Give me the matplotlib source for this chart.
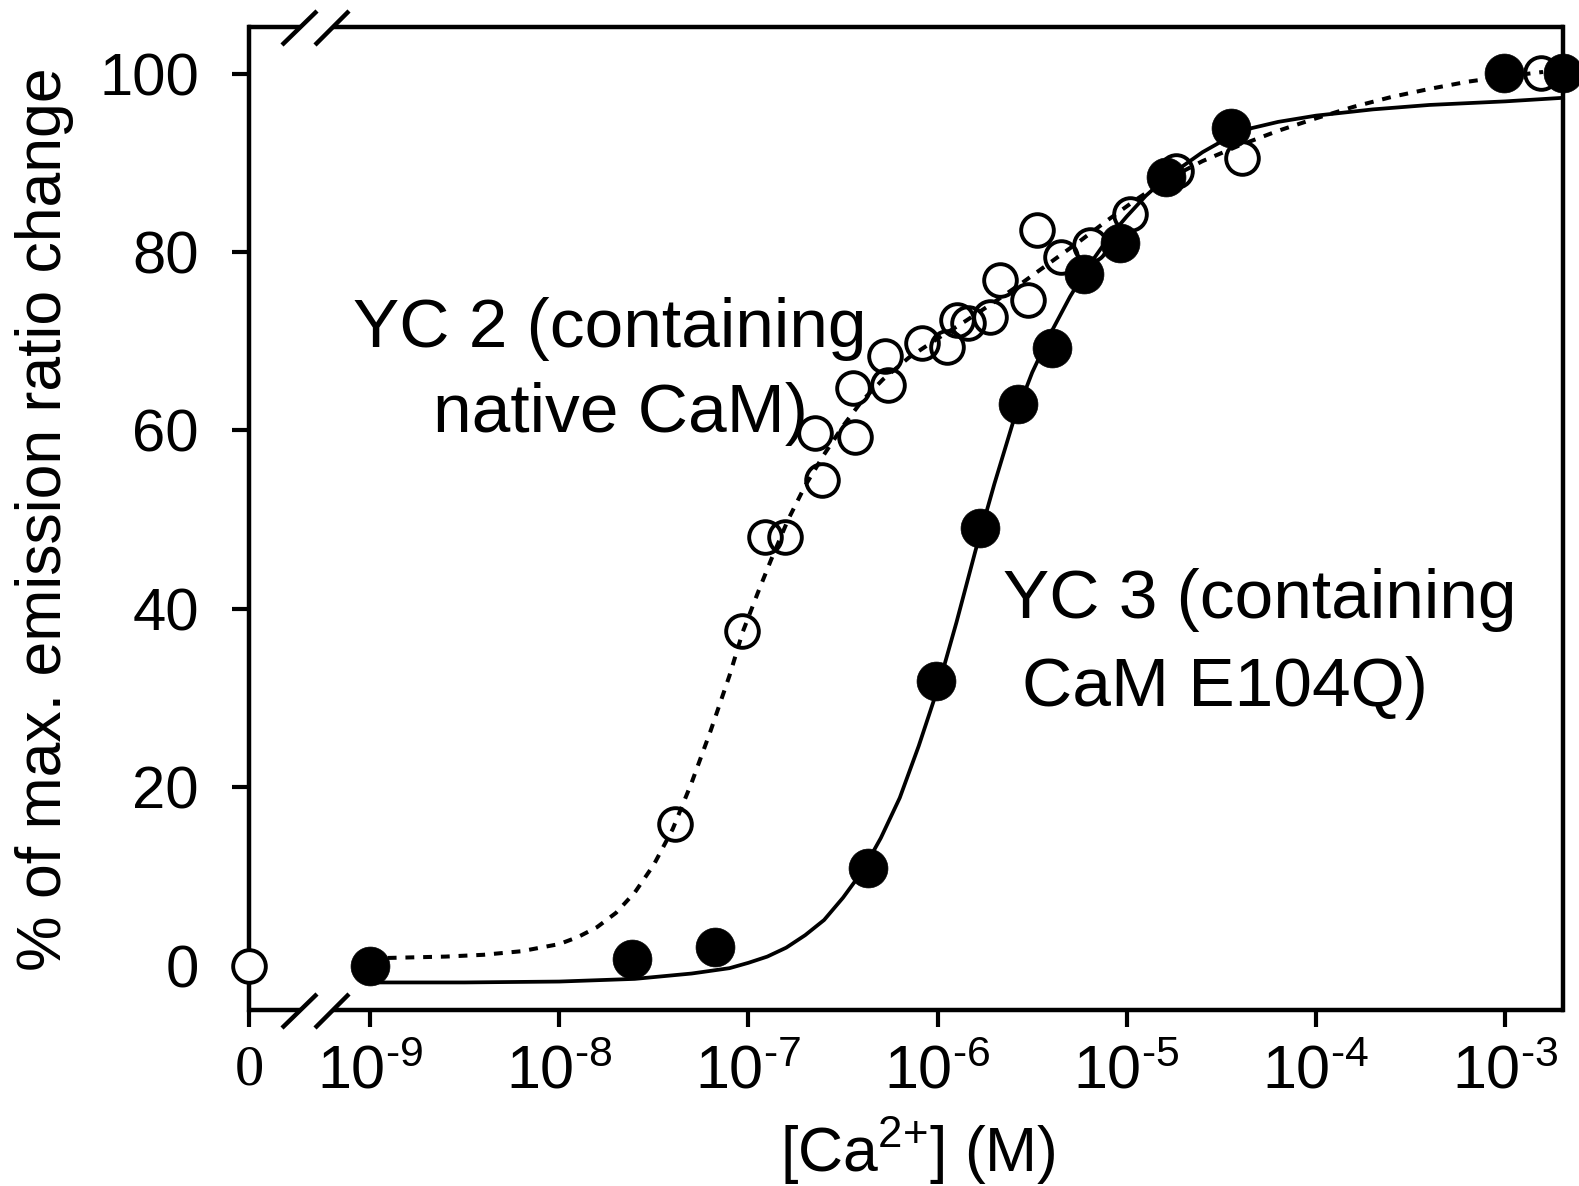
import numpy as np
import matplotlib
matplotlib.use('Agg')
import matplotlib.pyplot as plt
from matplotlib.ticker import NullLocator, FixedLocator

plt.rcParams['font.family'] = ['Liberation Sans', 'DejaVu Sans']
plt.rcParams['mathtext.fontset'] = 'custom'
plt.rcParams['mathtext.rm'] = 'Liberation Sans'
plt.rcParams['mathtext.it'] = 'Liberation Sans:italic'
plt.rcParams['mathtext.bf'] = 'Liberation Sans:bold'
plt.rcParams['mathtext.sf'] = 'Liberation Sans'

# ---------------- data (log10 of [Ca2+] in M, % of max change) ----------------
# YC 2 (open circles); the "0 M" point is kept separately
yc2_zero_value = 0.0
yc2_logx = [-7.389, -7.032, -6.910, -6.804, -6.612, -6.649, -6.436, -6.447,
            -6.277, -6.261, -6.085, -5.952, -5.899, -5.840, -5.723, -5.670,
            -5.521, -5.473, -5.350, -5.196, -4.983, -4.738, -4.392, -2.811]
yc2_y = [15.9, 37.5, 48.0, 48.1, 54.4, 59.7, 59.3, 64.8,
         68.3, 65.1, 69.8, 69.4, 72.4, 72.0, 72.7, 76.9,
         74.6, 82.5, 79.5, 80.8, 84.3, 89.1, 90.5, 100.1]

# YC 3 (filled circles)
yc3_logx = [-9.0, -7.613, -7.176, -6.367, -6.010, -5.776, -5.574, -5.393,
            -5.228, -5.036, -4.791, -4.451, -3.008, -2.694]
yc3_y = [0.0, 0.7, 2.1, 10.9, 31.9, 49.1, 63.0, 69.2,
         77.5, 81.0, 88.4, 93.9, 100.1, 100.1]

# fitted curve for YC 2 (dotted)
fit2_logx = [-9.0, -8.8, -8.6, -8.4, -8.2, -8.0, -7.9, -7.8, -7.7, -7.6,
             -7.5, -7.4, -7.3, -7.2, -7.1, -7.03, -6.95, -6.88, -6.79, -6.70,
             -6.60, -6.50, -6.40, -6.29, -6.15, -6.00, -5.85, -5.70, -5.55, -5.40,
             -5.25, -5.10, -4.95, -4.80, -4.60, -4.40, -4.20, -4.00, -3.80, -3.60,
             -3.40, -3.20, -3.00, -2.80]
fit2_y = [0.8, 0.9, 1.0, 1.2, 1.6, 2.4, 3.2, 4.3, 5.9, 8.2,
          11.3, 15.3, 20.5, 26.3, 32.5, 37.4, 41.8, 45.5, 50.0, 53.8,
          57.3, 60.5, 63.3, 65.7, 68.2, 70.3, 72.3, 74.4, 76.6, 78.9,
          81.2, 83.6, 85.9, 88.0, 90.2, 92.0, 93.6, 95.0, 96.3, 97.4,
          98.3, 99.1, 99.7, 100.2]

# fitted curve for YC 3 (solid)
fit3_logx = [-9.0, -8.5, -8.0, -7.6, -7.3, -7.1, -7.0, -6.9, -6.8, -6.7,
             -6.6, -6.5, -6.4, -6.3, -6.2, -6.1, -6.0, -5.9, -5.8, -5.7,
             -5.6, -5.5, -5.4, -5.3, -5.2, -5.1, -5.0, -4.9, -4.8, -4.6,
             -4.4, -4.2, -4.0, -3.7, -3.4, -3.0, -2.694]
fit3_y = [-1.9, -1.9, -1.8, -1.5, -0.9, -0.3, 0.3, 1.0, 2.0, 3.4,
          5.1, 7.6, 10.5, 14.3, 18.8, 24.6, 31.0, 38.5, 46.5, 54.0,
          61.0, 66.5, 71.0, 75.0, 78.5, 81.5, 84.0, 86.3, 88.2, 91.2,
          93.6, 94.6, 95.3, 96.0, 96.5, 96.9, 97.3]

x_tick_exponents = [-9, -8, -7, -6, -5, -4, -3]
y_ticks = [0, 20, 40, 60, 80, 100]

# ---------------- figure ----------------
W, H = 1579, 1186
fig = plt.figure(figsize=(W / 100, H / 100), dpi=100)
ax_l, ax_r, ax_t, ax_b = 249, 1563, 27, 1010
ax = fig.add_axes([ax_l / W, 1 - ax_b / H, (ax_r - ax_l) / W, (ax_b - ax_t) / H])

def fpx(x, y):
    return x / W, 1 - y / H

xmin_log, xmax_log = -9.6395, -2.6945
x_zero = 10 ** xmin_log

ax.set_xscale('log')
ax.set_xlim(10 ** xmin_log, 10 ** xmax_log)
ax.set_ylim(-4.99, 105.24)

# curves
ax.plot(10 ** np.array(fit2_logx), fit2_y, color='black', lw=2.9,
        linestyle=(0, (2.2, 2.2)), zorder=2, clip_on=False)
ax.plot(10 ** np.array(yc2_logx), yc2_y, linestyle='none', marker='o', ms=23.5,
        mfc='none', mec='black', mew=2.8, zorder=3, clip_on=False)
ax.plot([x_zero], [yc2_zero_value], linestyle='none', marker='o', ms=23.5,
        mfc='white', mec='black', mew=2.8, zorder=6, clip_on=False)
ax.plot(10 ** np.array(fit3_logx), fit3_y, color='black', lw=2.7, zorder=4,
        clip_on=False)
ax.plot(10 ** np.array(yc3_logx), yc3_y, linestyle='none', marker='o', ms=28,
        mfc='black', mec='black', mew=0.5, zorder=5, clip_on=False)

# ticks
xt = [x_zero] + [10.0 ** e for e in x_tick_exponents]
xl = ['0'] + [r'$10^{\text{-}%d}$' % (-e) for e in x_tick_exponents]
ax.xaxis.set_major_locator(FixedLocator(xt))
ax.xaxis.set_minor_locator(NullLocator())
ax.set_xticklabels(xl)
ax.set_yticks(y_ticks)
ax.set_yticklabels([str(v) for v in y_ticks])
ax.tick_params(axis='both', direction='out', width=3, color='black')
ax.tick_params(axis='x', length=12, pad=13, labelsize=44)
ax.tick_params(axis='y', length=12, pad=24, labelsize=43)
for lab in ax.get_xticklabels():
    if lab.get_text() == '0':
        lab.set_fontfamily('Liberation Serif')
        lab.set_fontsize(42)

# spines with axis breaks
for s in ['top', 'bottom']:
    ax.spines[s].set_visible(False)
for s in ['left', 'right']:
    ax.spines[s].set_linewidth(3.2)

def axfrac(px, py):
    return (px - ax_l) / (ax_r - ax_l), (ax_b - py) / (ax_b - ax_t)

def seg(p0, p1, lw=3.2):
    a = axfrac(*p0); b = axfrac(*p1)
    ax.plot([a[0], b[0]], [a[1], b[1]], color='black', lw=lw,
            transform=ax.transAxes, clip_on=False, solid_capstyle='butt', zorder=7)

seg((ax_l - 1, ax_b), (301, ax_b))
seg((333, ax_b), (ax_r + 1, ax_b))
seg((ax_l - 1, ax_t), (300, ax_t))
seg((333, ax_t), (ax_r + 1, ax_t))
# break slashes
for yb in (ax_b, ax_t):
    seg((282, yb + 18), (317, yb - 16), lw=3.2)
    seg((315, yb + 18), (349, yb - 16), lw=3.2)

# axis labels
fig.text(*fpx(45, 519), '% of max. emission ratio change', rotation=90,
         ha='center', va='center', fontsize=45)
fig.text(*fpx(918, 1172), r'[Ca$^{\text{2+}}$] (M)', ha='center', va='baseline',
         fontsize=45)

# annotations
fig.text(*fpx(353, 347), 'YC 2 (containing', ha='left', va='baseline', fontsize=50)
fig.text(*fpx(433, 432), 'native CaM)', ha='left', va='baseline', fontsize=50)
fig.text(*fpx(1003, 618), 'YC 3 (containing', ha='left', va='baseline', fontsize=50)
fig.text(*fpx(1022, 706), 'CaM E104Q)', ha='left', va='baseline', fontsize=50)

fig.savefig('out.png', dpi=100, facecolor='white')
